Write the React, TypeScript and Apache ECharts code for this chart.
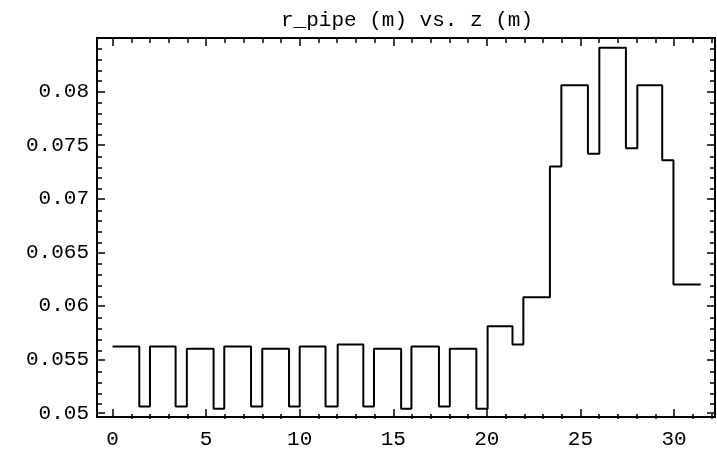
import React, { useEffect, useRef } from "react";
import * as echarts from "echarts";

// z positions (m) where the pipe radius changes; segment i spans zEdges[i]..zEdges[i+1]
const zEdges = [
  0, 1.43, 2.0, 3.37, 3.97, 5.4, 5.97, 7.4, 8.0, 9.43, 10.0, 11.38, 12.03, 13.4,
  13.97, 15.42, 15.97, 17.44, 18.02, 19.44, 20.04, 21.37, 21.95, 23.37, 23.98,
  25.4, 26.01, 27.43, 28.04, 29.37, 29.97, 31.43,
];
// pipe radius (m) for each segment
const rPipe = [
  0.0562, 0.0506, 0.0562, 0.0506, 0.056, 0.0504, 0.0562, 0.0506, 0.056, 0.0506,
  0.0562, 0.0506, 0.0564, 0.0506, 0.056, 0.0504, 0.0562, 0.0506, 0.056, 0.0504,
  0.0581, 0.0564, 0.0608, 0.073, 0.0806, 0.0742, 0.0841, 0.0747, 0.0806, 0.0736,
  0.062,
];

const xMajorTicks = [0, 5, 10, 15, 20, 25, 30];
const xMinorTicks = [1, 2, 3, 4, 6, 7, 8, 9, 11, 12, 13, 14, 16, 17, 18, 19, 21, 22, 23, 24, 26, 27, 28, 29, 31, 32];
const yMajorTicks = [0.05, 0.055, 0.06, 0.065, 0.07, 0.075, 0.08];
const yMinorTicks = [
  0.051, 0.052, 0.053, 0.054, 0.056, 0.057, 0.058, 0.059, 0.061, 0.062, 0.063,
  0.064, 0.066, 0.067, 0.068, 0.069, 0.071, 0.072, 0.073, 0.074, 0.076, 0.077,
  0.078, 0.079, 0.081, 0.082, 0.083, 0.084,
];

const X_MIN = -0.83;
const X_MAX = 32.19;
const Y_MIN = 0.04963;
const Y_MAX = 0.085;

const FONT = "Liberation Mono";

export default function App() {
  const ref = useRef<HTMLDivElement>(null);

  useEffect(() => {
    if (!ref.current) return;
    const chart = echarts.init(ref.current, undefined, { renderer: "svg" });

    const points: [number, number][] = rPipe.map((v, i) => [zEdges[i], v]);
    points.push([zEdges[zEdges.length - 1], rPipe[rPipe.length - 1]]);

    const gridRect = { left: 97, right: 2, top: 38, bottom: 31 };

    const mkX = (gridIndex: number, position: string, ticks: number[], len: number, labels: boolean) => ({
      type: "value",
      gridIndex,
      position,
      min: X_MIN,
      max: X_MAX,
      axisLine: { show: false, onZero: false },
      splitLine: { show: false },
      axisTick: {
        show: true,
        inside: true,
        length: len,
        customValues: ticks,
        lineStyle: { color: "#000", width: 1.5 },
      },
      axisLabel: {
        show: labels,
        customValues: ticks,
        margin: 12,
        color: "#000",
        fontFamily: FONT,
        fontSize: 21,
      },
    });

    const mkY = (gridIndex: number, position: string, ticks: number[], len: number, labels: boolean) => ({
      type: "value",
      gridIndex,
      position,
      min: Y_MIN,
      max: Y_MAX,
      axisLine: { show: false, onZero: false },
      splitLine: { show: false },
      axisTick: {
        show: true,
        inside: true,
        length: len,
        customValues: ticks,
        lineStyle: { color: "#000", width: 1.5 },
      },
      axisLabel: {
        show: labels,
        customValues: ticks,
        margin: 8,
        color: "#000",
        fontFamily: FONT,
        fontSize: 21,
      },
    });

    chart.setOption({
      animation: false,
      title: {
        text: "r_pipe (m) vs. z (m)",
        left: 402,
        top: 5,
        textAlign: "center",
        textStyle: { fontFamily: FONT, fontSize: 21, fontWeight: "normal", color: "#000" },
      },
      grid: [
        { ...gridRect, show: true, borderColor: "#000", borderWidth: 2 },
        { ...gridRect, show: false },
      ],
      xAxis: [
        mkX(0, "bottom", xMajorTicks, 8, true),
        mkX(0, "top", xMajorTicks, 8, false),
        mkX(1, "bottom", xMinorTicks, 5, false),
        mkX(1, "top", xMinorTicks, 5, false),
      ],
      yAxis: [
        mkY(0, "left", yMajorTicks, 8, true),
        mkY(0, "right", yMajorTicks, 8, false),
        mkY(1, "left", yMinorTicks, 5, false),
        mkY(1, "right", yMinorTicks, 5, false),
      ],
      series: [
        {
          type: "line",
          xAxisIndex: 0,
          yAxisIndex: 0,
          step: "end",
          data: points,
          showSymbol: false,
          lineStyle: { color: "#000", width: 2 },
        },
      ],
    });

    return () => chart.dispose();
  }, []);

  return <div ref={ref} style={{ position: "fixed", left: 0, top: 0, width: 717, height: 450 }} />;
}
